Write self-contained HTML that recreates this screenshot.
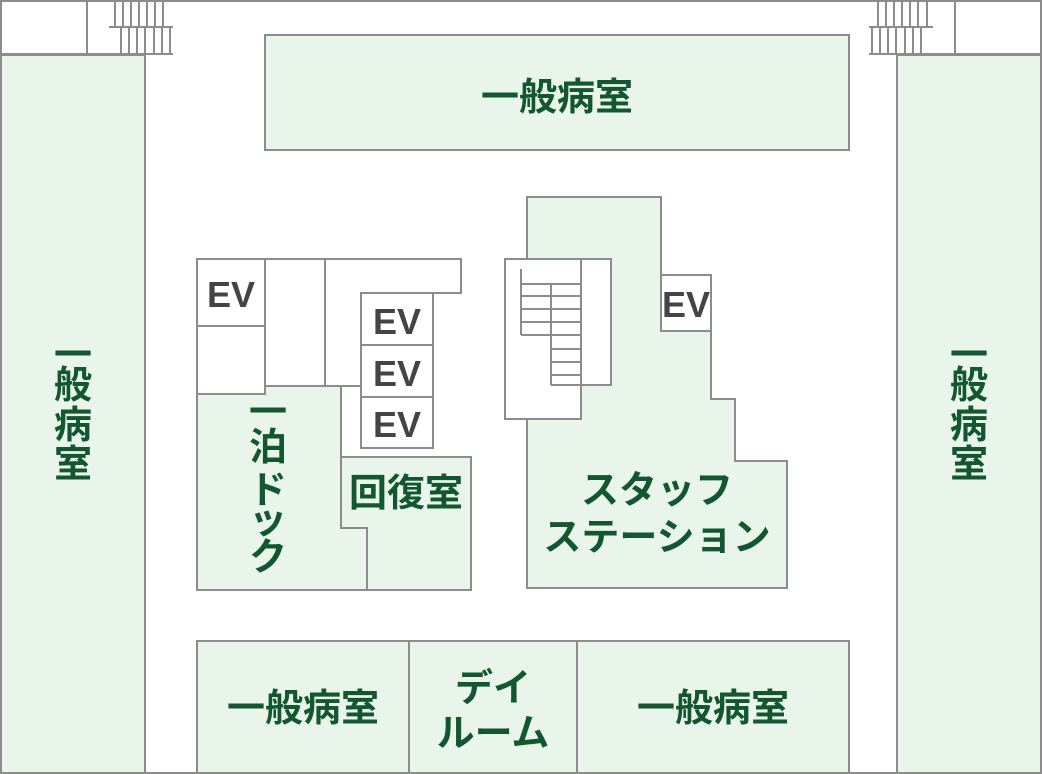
<!DOCTYPE html>
<html><head><meta charset="utf-8"><style>
html,body{margin:0;padding:0;background:#fff}
svg{display:block}
.r{fill:#e9f4eb;stroke:#8c8c8c;stroke-width:2}
.w{fill:#fff;stroke:#8c8c8c;stroke-width:2}
.l{stroke:#8c8c8c;stroke-width:2;fill:none}
.t{font-family:"Liberation Sans","Noto Sans CJK JP",sans-serif;font-weight:bold;fill:#12572f;font-size:38px;text-anchor:middle}
.ev{font-family:"Liberation Sans",sans-serif;font-weight:bold;fill:#444;font-size:36px;text-anchor:middle}
</style></head><body>
<svg width="1042" height="774" viewBox="0 0 1042 774" xmlns="http://www.w3.org/2000/svg">
<rect x="1" y="1" width="1040" height="772" class="w"/>
<path class="l" d="M87 1V54M1 54H173M109 27H173"/>
<path class="l" d="M115 1V27M123 1V27M131 1V27M139 1V27M147 1V27M155 1V27M163 1V27"/>
<path class="l" d="M121 27V54M129 27V54M137 27V54M145 27V54M154 27V54M162 27V54M170 27V54"/>
<path class="l" d="M955 1V54M869 54H1041M869 27H933"/>
<path class="l" d="M878 1V27M886 1V27M894 1V27M902 1V27M910 1V27M918 1V27M927 1V27"/>
<path class="l" d="M872 27V54M880 27V54M888 27V54M896 27V54M905 27V54M913 27V54M921 27V54"/>
<rect class="r" x="1" y="55" width="144" height="718"/>
<rect class="r" x="897" y="55" width="144" height="718"/>
<rect class="r" x="265" y="35" width="584" height="115"/>
<rect class="r" x="197" y="641" width="212" height="132"/>
<rect class="r" x="409" y="641" width="168" height="132"/>
<rect class="r" x="577" y="641" width="272" height="132"/>
<rect class="w" x="197" y="259" width="68" height="67"/>
<rect class="w" x="197" y="326" width="68" height="68"/>
<rect class="w" x="265" y="259" width="60" height="127"/>
<path class="w" d="M325 259H461V293H361V386H325Z"/>
<path class="l" d="M341 386V457"/>
<rect class="w" x="361" y="293" width="72" height="52"/>
<rect class="w" x="361" y="345" width="72" height="52"/>
<rect class="w" x="361" y="397" width="72" height="51"/>
<path class="r" d="M197 394H265V386H341V528H367V590H197Z"/>
<path class="r" d="M341 457H471V590H367V528H341Z"/>
<path class="r" d="M527 197H661V331H711V399H735V461H787V588H527Z"/>
<rect class="w" x="661" y="275" width="50" height="56"/>
<rect class="w" x="581" y="259" width="30" height="126"/>
<rect class="w" x="505" y="259" width="76" height="160"/>
<path class="l" d="M521 269V335M551 284V385M521 284H581M521 296H581M521 309H581M521 322H581M521 335H581M551 349H581M551 362H581M551 375H581M551 385H581"/>
<text class="t" x="557" y="110">一般病室</text>
<text class="t" x="73" y="368">一</text><text class="t" x="73" y="398">般</text><text class="t" x="73" y="438">病</text><text class="t" x="73" y="477">室</text>
<text class="t" x="969" y="368">一</text><text class="t" x="969" y="398">般</text><text class="t" x="969" y="438">病</text><text class="t" x="969" y="477">室</text>
<text class="t" x="268" y="425">一</text><text class="t" x="268" y="460">泊</text><text class="t" x="268" y="503">ド</text><text class="t" x="268" y="533">ッ</text><text class="t" x="268" y="570">ク</text>
<text class="t" x="406" y="506">回復室</text>
<text class="t" x="657" y="503">スタッフ</text>
<text class="t" x="657" y="550">ステーション</text>
<text class="t" x="303" y="721">一般病室</text>
<text class="t" x="493" y="701">デイ</text>
<text class="t" x="493" y="746">ルーム</text>
<text class="t" x="713" y="721">一般病室</text>
<text class="ev" x="231" y="307">EV</text>
<text class="ev" x="397" y="334">EV</text>
<text class="ev" x="397" y="386">EV</text>
<text class="ev" x="397" y="437">EV</text>
<text class="ev" x="686" y="317">EV</text>
</svg>
</body></html>
